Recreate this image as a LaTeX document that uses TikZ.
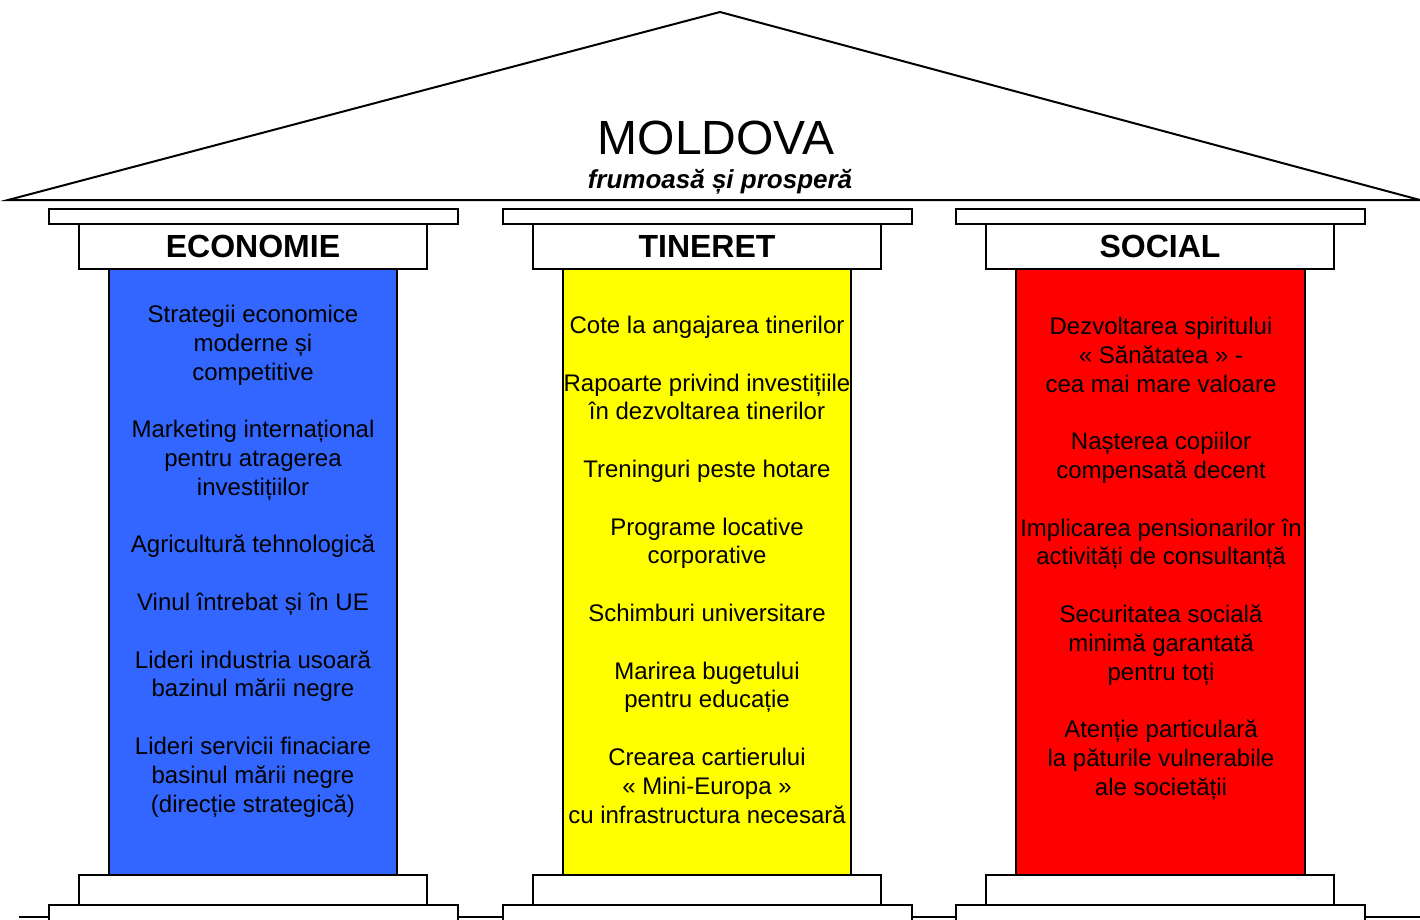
\documentclass[tikz,border=0pt]{standalone}
\usepackage{fontspec}
\setmainfont{Liberation Sans}
\definecolor{econblue}{RGB}{51,102,255}
\definecolor{tinyellow}{RGB}{255,255,0}
\definecolor{socred}{RGB}{255,0,0}
\tikzset{
  part/.style={draw=black, fill=white},
  head/.style={font=\fontsize{32}{36}\selectfont\bfseries},
  items/.style={anchor=north, align=center, inner sep=0pt, font=\fontsize{24}{28.8}\selectfont}
}

\begin{document}
\begin{tikzpicture}[line width=2pt, x=1pt, y=-1pt]
\useasboundingbox (0,0) rectangle (1420,919);
% acoperis
\draw (8,200) -- (720,12) -- (1420,200) -- cycle;
\node (title) at (716,138) {\fontsize{48}{54}\selectfont MOLDOVA};
\node (motto) at (720,182) {\fontsize{26}{30}\selectfont\bfseries\itshape frumoasă și prosperă};
\draw (19,917) -- (1420,917);

% coloana 1
\draw[part] (49,209) rectangle (458,224);
\draw[part] (79,224) rectangle (427,269);
\draw[fill=econblue] (109,269) rectangle (397,875);
\draw[part] (79,875) rectangle (427,905);
\draw[part] (49,905) rectangle (458,930);
\node[head] (econ) at (253,246) {ECONOMIE};
\node[items] (econtext) at (253,304) {Strategii economice\\ moderne și\\ competitive\\[28.8pt]
Marketing internațional\\ pentru atragerea\\ investițiilor\\[28.8pt]
Agricultură tehnologică\\[28.8pt]
Vinul întrebat și în UE\hspace*{20pt}\\[28.8pt]
Lideri industria usoară\\ bazinul mării negre\\[28.8pt]
Lideri servicii finaciare\\ basinul mării negre\\ (direcție strategică)};

% coloana 2
\draw[part] (503,209) rectangle (912,224);
\draw[part] (533,224) rectangle (881,269);
\draw[fill=tinyellow] (563,269) rectangle (851,875);
\draw[part] (533,875) rectangle (881,905);
\draw[part] (503,905) rectangle (912,930);
\node[head] (tin) at (707,246) {TINERET};
\node[items] (tintext) at (707,315) {Cote la angajarea tinerilor\\[28.8pt]
Rapoarte privind investițiile\\ în dezvoltarea tinerilor\\[28.8pt]
Treninguri peste hotare\\[28.8pt]
Programe locative\\ corporative\\[28.8pt]
Schimburi universitare\\[28.8pt]
Marirea bugetului\\ pentru educație\\[28.8pt]
Crearea cartierului\\ « Mini-Europa »\\ cu infrastructura necesară};

% coloana 3
\draw[part] (956,209) rectangle (1365,224);
\draw[part] (986,224) rectangle (1334,269);
\draw[fill=socred] (1016,269) rectangle (1305,875);
\draw[part] (986,875) rectangle (1334,905);
\draw[part] (956,905) rectangle (1365,930);
\node[head] (soc) at (1160,246) {SOCIAL};
\node[items] (soctext) at (1161,316) {Dezvoltarea spiritului\\ « Sănătatea » -\\ cea mai mare valoare\\[28.8pt]
Nașterea copiilor\\ compensată decent\\[28.8pt]
Implicarea pensionarilor în\\ activități de consultanță\\[28.8pt]
Securitatea socială\\ minimă garantată\\ pentru toți\\[28.8pt]
Atenție particulară\\ la păturile vulnerabile\\ ale societății};
\end{tikzpicture}
\end{document}
